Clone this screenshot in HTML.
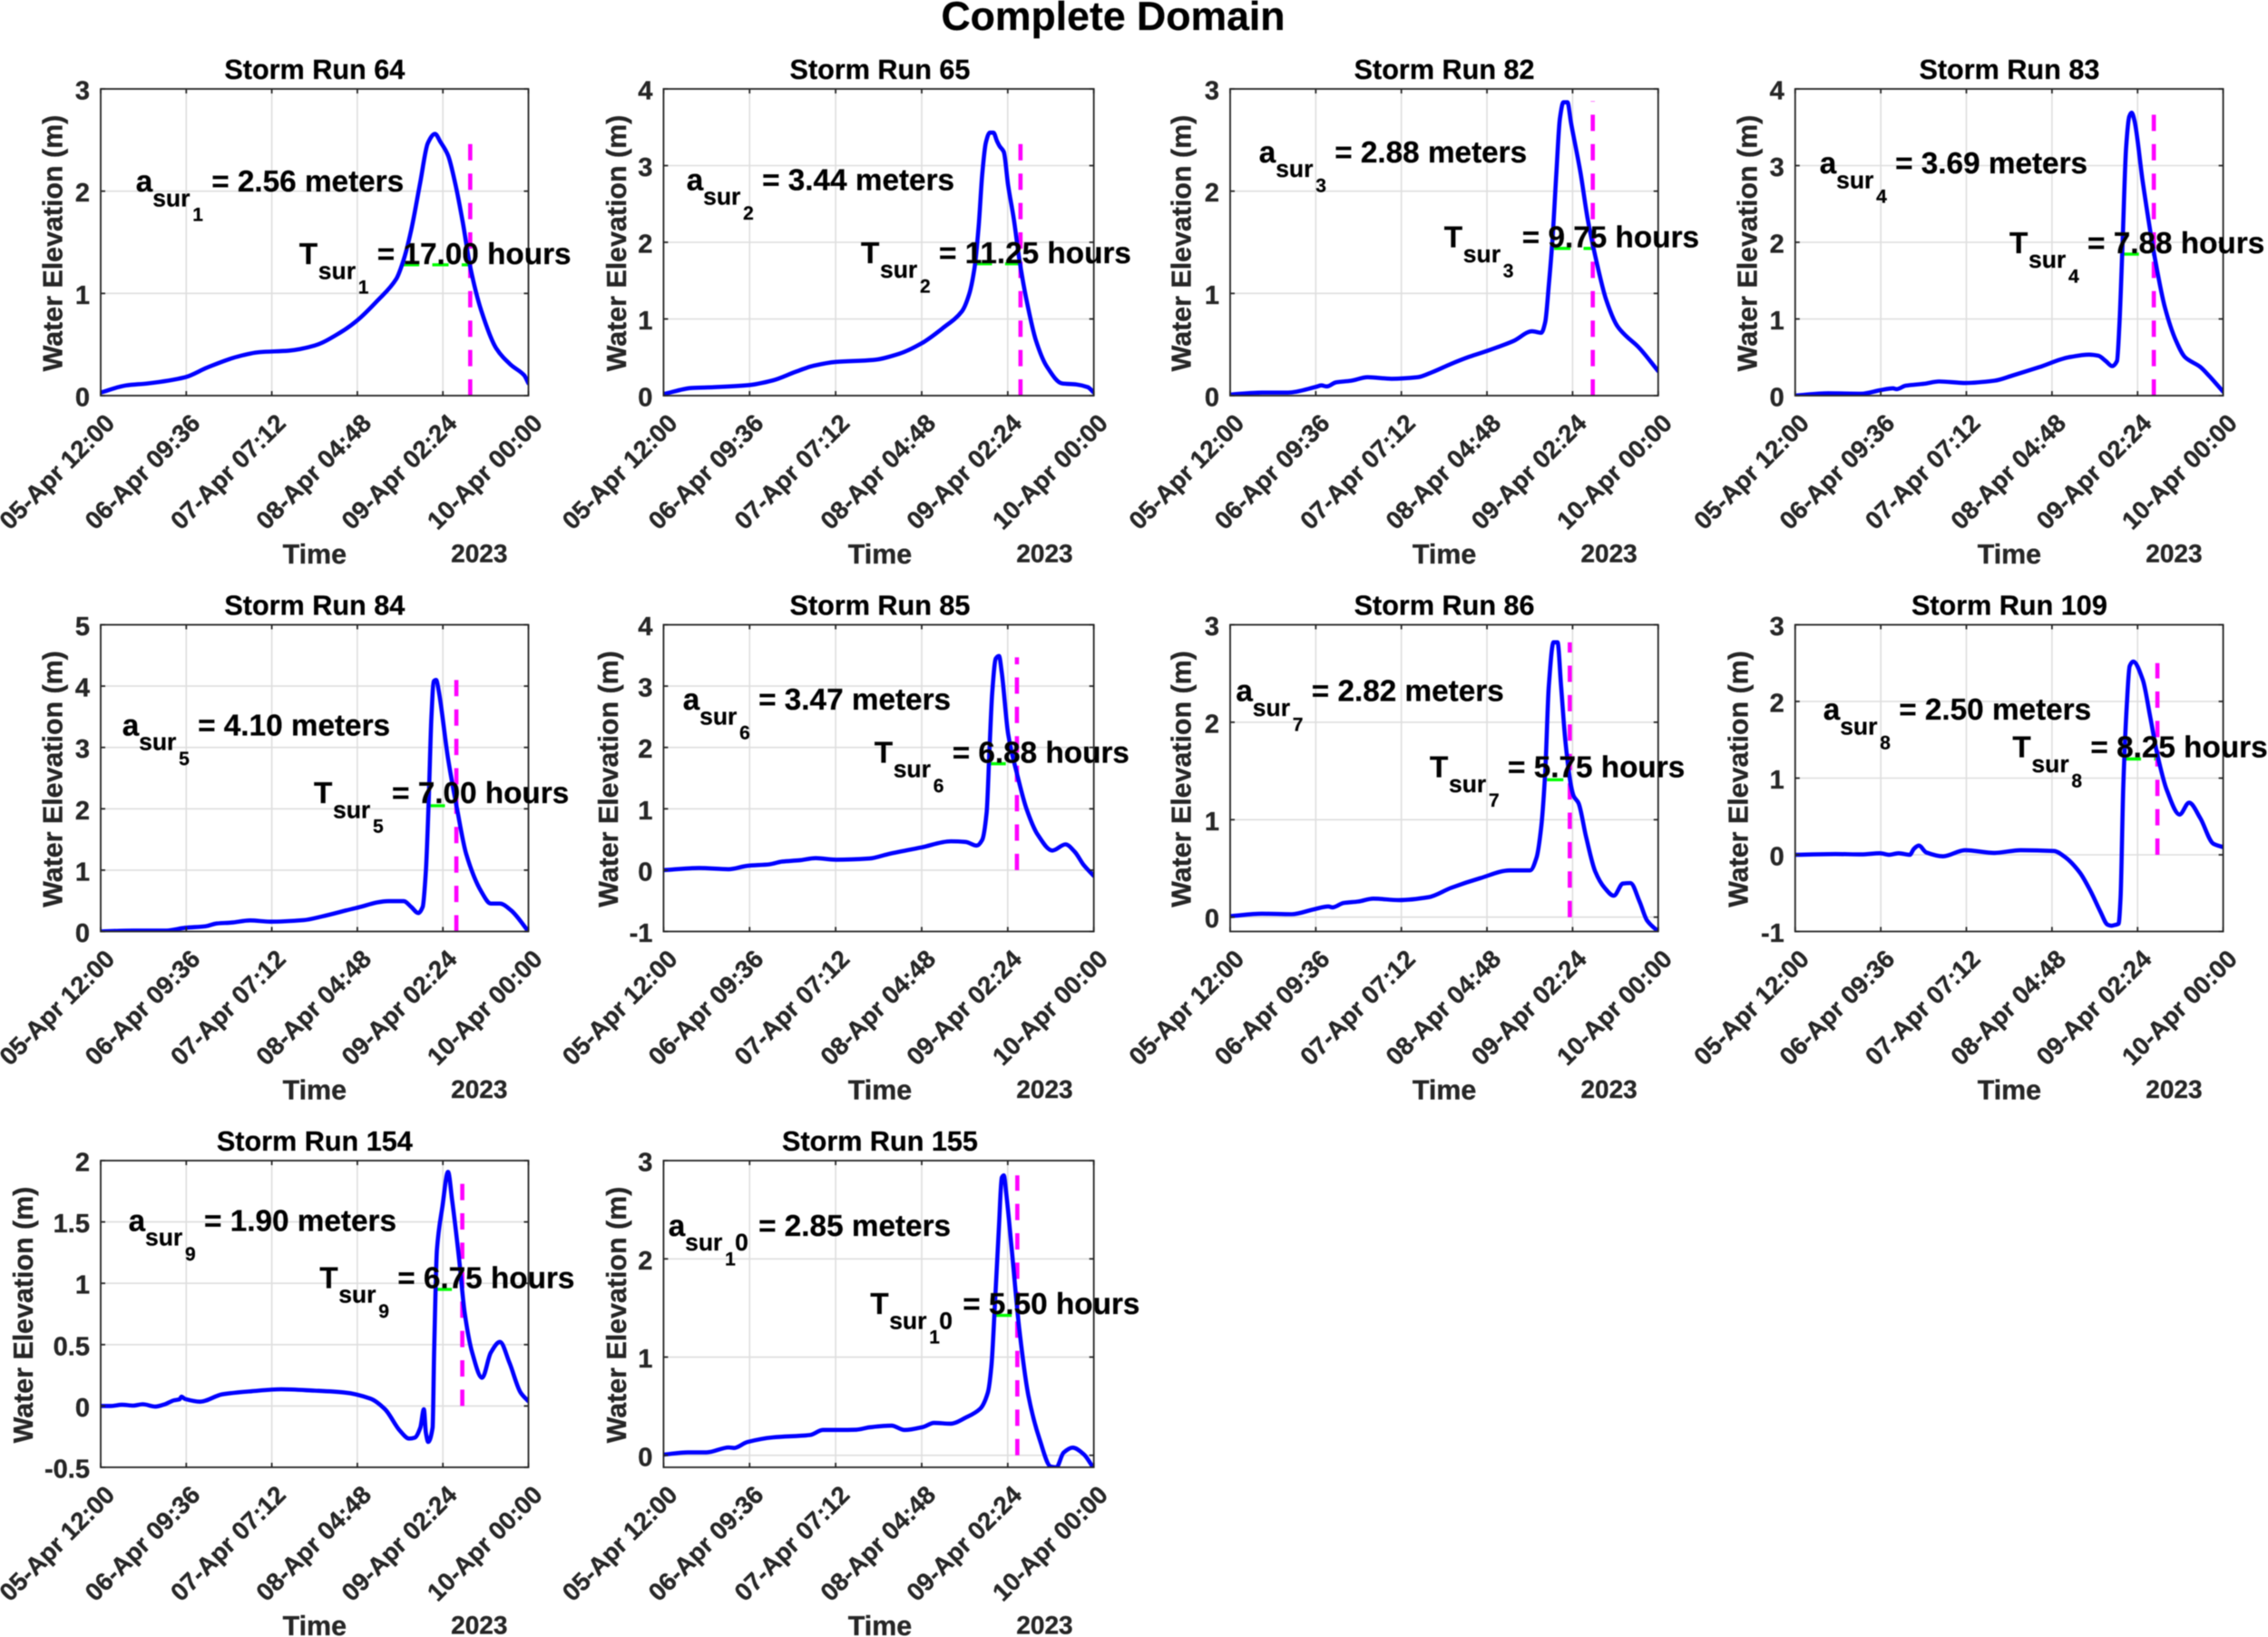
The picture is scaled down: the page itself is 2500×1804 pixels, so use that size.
<!DOCTYPE html>
<html lang="en">
<head>
<meta charset="utf-8">
<title>Complete Domain</title>
<style>
  html, body { margin: 0; padding: 0; background: #ffffff; }
  svg { display: block; filter: blur(0.5px); }
  text { font-family: "Liberation Sans", Arial, sans-serif; font-weight: bold; text-rendering: geometricPrecision; stroke: #262626; stroke-width: 0.35px; }
</style>
</head>
<body>
<svg id="figure" xmlns="http://www.w3.org/2000/svg" width="2500" height="1804" viewBox="0 0 2500 1804">
  <rect x="0" y="0" width="2500" height="1804" fill="#ffffff"/>
  <text x="1227" y="33" font-size="44.6" text-anchor="middle" fill="#000000">Complete Domain</text>
</svg>
<script>
// ---------- shared axis data ----------
const xTickHours = [0, 21.6, 43.2, 64.8, 86.4, 108];
const xTickLabels = ["05-Apr 12:00", "06-Apr 09:36", "07-Apr 07:12", "08-Apr 04:48", "09-Apr 02:24", "10-Apr 00:00"];
const xDomainEnd = 108;
const xLabelText = "Time";
const yLabelText = "Water Elevation (m)";
const yearLabelText = "2023";

// ---------- per-panel categories and scalars ----------
const stormRuns = [64, 65, 82, 83, 84, 85, 86, 109, 154, 155];
const surgeIndexLabels = ["1", "2", "3", "4", "5", "6", "7", "8", "9", "10"];
const peakMeters = [2.56, 3.44, 2.88, 3.69, 4.10, 3.47, 2.82, 2.50, 1.90, 2.85];
const durationHours = [17.00, 11.25, 9.75, 7.88, 7.00, 6.88, 5.75, 8.25, 6.75, 5.50];
const surgeEndHour = [93.3, 89.6, 91.5, 90.5, 89.8, 88.7, 85.7, 91.4, 91.3, 88.8];
const yMinValues = [0, 0, 0, 0, 0, -1, -0.147, -1, -0.5, -0.122];
const yMaxValues = [3, 4, 3, 4, 5, 4, 3, 3, 2, 3];
const yTicks64 = [0, 1, 2, 3];
const yTicks65 = [0, 1, 2, 3, 4];
const yTicks82 = [0, 1, 2, 3];
const yTicks83 = [0, 1, 2, 3, 4];
const yTicks84 = [0, 1, 2, 3, 4, 5];
const yTicks85 = [-1, 0, 1, 2, 3, 4];
const yTicks86 = [0, 1, 2, 3];
const yTicks109 = [-1, 0, 1, 2, 3];
const yTicks154 = [-0.5, 0, 0.5, 1, 1.5, 2];
const yTicks155 = [0, 1, 2, 3];

// ---------- series: hours since 05-Apr 12:00, water elevation in metres ----------
const hours64 = [0, 6.4, 12, 21.3, 26.9, 34.4, 40, 47.5, 54, 60.6, 64.9, 69.9, 74.6, 76.5, 78.4, 80.7, 82.6, 84.4, 85.8, 87.7, 89.6, 91.4, 93.3, 96.1, 99.9, 103.6, 106.9, 108];
const elev64 = [0.03, 0.10, 0.12, 0.18, 0.275, 0.38, 0.425, 0.44, 0.49, 0.62, 0.74, 0.93, 1.14, 1.33, 1.62, 2.09, 2.47, 2.56, 2.48, 2.35, 2.06, 1.70, 1.26, 0.83, 0.46, 0.30, 0.20, 0.12];

const hours65 = [0, 7.1, 12.6, 21, 27.5, 33.1, 37.7, 43.3, 52.6, 59.1, 64.7, 70.2, 74.9, 76.7, 78.1, 79.1, 80, 80.9, 81.9, 82.8, 83.7, 84.4, 85.4, 86.5, 87.9, 89.3, 91.1, 93.5, 96.2, 100, 103.7, 106.5, 108];
const elev65 = [0.02, 0.10, 0.11, 0.135, 0.20, 0.31, 0.39, 0.44, 0.465, 0.545, 0.68, 0.885, 1.10, 1.32, 1.68, 2.21, 2.89, 3.30, 3.43, 3.43, 3.32, 3.25, 3.18, 2.74, 2.31, 1.78, 1.25, 0.715, 0.38, 0.16, 0.145, 0.11, 0.04];

const hours82 = [0, 8, 14.6, 21.6, 23, 24.4, 26.7, 30.4, 34.7, 40.7, 47.3, 51, 55.7, 60.3, 65, 71.5, 76.2, 78.5, 79.5, 80.4, 81.3, 82.3, 83.2, 84.1, 85.1, 86, 88.4, 90.2, 92.1, 94.9, 97.7, 100, 102.9, 108];
const elev82 = [0.01, 0.03, 0.03, 0.085, 0.10, 0.09, 0.13, 0.145, 0.18, 0.165, 0.18, 0.23, 0.31, 0.38, 0.44, 0.535, 0.63, 0.615, 0.72, 1.08, 1.51, 2.17, 2.71, 2.87, 2.87, 2.67, 2.18, 1.73, 1.37, 0.935, 0.68, 0.58, 0.48, 0.24];

const hours83 = [0, 8.3, 16.7, 21.4, 24.7, 25.6, 27.9, 32.6, 36.3, 42.9, 50.3, 55, 61.5, 69, 74.2, 76.5, 78.4, 80, 81.2, 81.8, 82.6, 83.5, 84.3, 84.9, 85.6, 87.7, 90.5, 93.3, 96.1, 98.4, 102.2, 104.5, 108];
const elev83 = [0.00, 0.03, 0.025, 0.07, 0.095, 0.085, 0.13, 0.155, 0.185, 0.165, 0.195, 0.265, 0.37, 0.50, 0.535, 0.52, 0.45, 0.385, 0.45, 0.91, 1.97, 3.23, 3.64, 3.69, 3.59, 2.79, 1.87, 1.15, 0.715, 0.50, 0.375, 0.255, 0.05];

const hours84 = [0, 8.2, 16.6, 21.3, 26.5, 29.3, 33, 37.7, 42.8, 51.2, 55.9, 64.3, 72.7, 76.5, 78.4, 80.2, 81.3, 82.1, 82.8, 83.5, 84.1, 84.7, 85.3, 87.7, 90, 92.3, 96.1, 98.5, 100.8, 103.6, 108];
const elev84 = [0.00, 0.015, 0.015, 0.06, 0.085, 0.13, 0.145, 0.18, 0.16, 0.185, 0.245, 0.38, 0.495, 0.495, 0.40, 0.30, 0.40, 0.985, 2.10, 3.49, 4.08, 4.10, 3.94, 2.82, 1.99, 1.26, 0.65, 0.455, 0.455, 0.345, 0.00];

const hours85 = [0, 8.9, 16.3, 21, 26.6, 29.8, 34, 38.2, 43.3, 51.7, 56.3, 64.7, 72.1, 75.8, 78.6, 80, 81.1, 81.8, 82.5, 83.4, 84.2, 84.9, 86.5, 88.8, 91.1, 93.9, 97.6, 100.9, 103.2, 105.5, 108];
const elev85 = [0.00, 0.035, 0.015, 0.07, 0.095, 0.14, 0.16, 0.195, 0.17, 0.19, 0.26, 0.37, 0.47, 0.46, 0.40, 0.495, 0.94, 1.94, 2.89, 3.45, 3.49, 3.22, 2.22, 1.55, 1.00, 0.58, 0.32, 0.42, 0.30, 0.08, -0.095];

const hours86 = [0, 8, 15.5, 21.1, 24.8, 25.8, 28.6, 32.3, 36.1, 42.6, 50.1, 55.7, 63.1, 70.6, 75.7, 77.3, 78.5, 79.5, 80.4, 81.6, 82.6, 83.5, 84.6, 86, 86.7, 87.9, 89.8, 92.1, 94.5, 96.8, 99.1, 101, 103.3, 105.2, 108];
const elev86 = [0.01, 0.035, 0.03, 0.08, 0.11, 0.10, 0.145, 0.16, 0.19, 0.175, 0.205, 0.30, 0.40, 0.48, 0.48, 0.61, 0.93, 1.49, 2.37, 2.82, 2.82, 2.37, 1.80, 1.35, 1.24, 1.17, 0.825, 0.47, 0.30, 0.22, 0.345, 0.35, 0.16, -0.035, -0.147];

const hours109 = [0, 10.2, 16.7, 21.4, 23.7, 26.1, 28.9, 30, 31.2, 33.1, 37.3, 42.9, 50.3, 56.9, 65.3, 68.1, 71.8, 74.6, 77, 78.8, 79.8, 80.7, 81.6, 82.1, 82.8, 83.7, 84.4, 85.3, 87.7, 89.6, 91.4, 93.8, 97, 99.4, 102.2, 105.5, 108];
const elev109 = [0.00, 0.01, 0.005, 0.02, 0.00, 0.02, 0.00, 0.08, 0.12, 0.03, -0.02, 0.06, 0.025, 0.06, 0.05, -0.03, -0.23, -0.48, -0.74, -0.91, -0.925, -0.915, -0.90, -0.565, 0.90, 1.97, 2.46, 2.52, 2.285, 1.795, 1.305, 0.84, 0.525, 0.68, 0.48, 0.145, 0.10];

const hours154 = [0, 2.6, 5.4, 8.2, 10.6, 13.8, 16.2, 18.5, 19.9, 20.4, 21.3, 25.1, 30.7, 38.1, 45.6, 54, 61.5, 68.1, 71.8, 75.6, 77.9, 79.3, 80.7, 81.6, 82.1, 82.7, 83.8, 84.2, 84.9, 86.3, 87.7, 88.7, 90.5, 91.9, 93.8, 96.3, 98.5, 100.8, 103.2, 106, 108];
const elev154 = [0.00, 0.00, 0.01, 0.003, 0.014, -0.005, 0.014, 0.046, 0.054, 0.076, 0.057, 0.035, 0.095, 0.12, 0.136, 0.125, 0.11, 0.06, -0.027, -0.204, -0.266, -0.258, -0.177, -0.027, -0.217, -0.293, -0.177, 0.462, 1.277, 1.63, 1.908, 1.685, 1.196, 0.76, 0.435, 0.23, 0.435, 0.522, 0.353, 0.11, 0.038];

const hours155 = [0, 6.1, 10.8, 16.4, 17.7, 21, 27.5, 36.8, 40, 44.2, 48.4, 51.7, 57.2, 60.5, 65.1, 67.9, 72.1, 75.8, 79.5, 81.4, 82.3, 83.2, 84.2, 84.9, 85.4, 86, 87.4, 89.3, 91.6, 94.4, 97.2, 98.6, 100.4, 102.7, 105.5, 107.8];
const elev155 = [0.007, 0.03, 0.03, 0.08, 0.075, 0.135, 0.183, 0.207, 0.258, 0.258, 0.261, 0.285, 0.302, 0.258, 0.288, 0.33, 0.322, 0.383, 0.475, 0.638, 0.91, 1.554, 2.335, 2.827, 2.85, 2.674, 2.097, 1.283, 0.604, 0.163, -0.115, -0.122, 0.027, 0.078, 0.01, -0.122];

const allHours = [hours64, hours65, hours82, hours83, hours84, hours85, hours86, hours109, hours154, hours155];
const allElev = [elev64, elev65, elev82, elev83, elev84, elev85, elev86, elev109, elev154, elev155];
const allYTicks = [yTicks64, yTicks65, yTicks82, yTicks83, yTicks84, yTicks85, yTicks86, yTicks109, yTicks154, yTicks155];

// ---------- page layout (pixels, not data) ----------
const layout = [
  { l: 111,    r: 582.5,  row: 0, yl: 68.6,  ax: 149.8,  ay: 211,   tx: 329.8,  ty: 291 },
  { l: 731.4,  r: 1205.7, row: 0, yl: 690,   ax: 756.7,  ay: 209.4, tx: 949,    ty: 289.8 },
  { l: 1356,   r: 1827.8, row: 0, yl: 1312.6,ax: 1387.8, ay: 178.8, tx: 1591.8, ty: 272.7 },
  { l: 1978.8, r: 2450.6, row: 0, yl: 1936.7,ax: 2005.7, ay: 191,   tx: 2215,   ty: 278.8 },
  { l: 111,    r: 582.5,  row: 1, yl: 68.6,  ax: 134.7,  ay: 810.3, tx: 346,    ty: 885 },
  { l: 731.4,  r: 1205.7, row: 1, yl: 680.8, ax: 752.7,  ay: 782,   tx: 963.7,  ty: 840.4 },
  { l: 1356,   r: 1827.8, row: 1, yl: 1312.6,ax: 1362.4, ay: 772.7, tx: 1576,   ty: 856.5 },
  { l: 1978.8, r: 2450.6, row: 1, yl: 1926.5,ax: 2009.8, ay: 793,   tx: 2218.4, ty: 834.7 },
  { l: 111,    r: 582.5,  row: 2, yl: 36,    ax: 141.6,  ay: 1356.4,tx: 352.2,  ty: 1419.4 },
  { l: 731.4,  r: 1205.7, row: 2, yl: 690,   ax: 736.7,  ay: 1361.9,tx: 959.2,  ty: 1448 }
];
const rowTop = [98, 688.5, 1279];
const axesHeight = 338;
const INK = "#262626";
const GRID = "#dedede";
const NS = "http://www.w3.org/2000/svg";
const figure = document.getElementById("figure");

function make(tag, attrs, parent, content) {
  const el = document.createElementNS(NS, tag);
  for (const k in attrs) el.setAttribute(k, attrs[k]);
  if (content !== undefined) el.textContent = content;
  parent.appendChild(el);
  return el;
}

// Monotone cubic through the read points, so peaks never overshoot.
function smoothPath(pts) {
  const n = pts.length;
  const slope = [];
  for (let i = 0; i < n - 1; i++) slope.push((pts[i + 1][1] - pts[i][1]) / (pts[i + 1][0] - pts[i][0]));
  const tangent = [slope[0]];
  for (let i = 1; i < n - 1; i++) {
    const a = slope[i - 1], b = slope[i];
    tangent.push(a * b <= 0 ? 0 : 2 * a * b / (a + b));
  }
  tangent.push(slope[n - 2]);
  let d = "M" + pts[0][0].toFixed(2) + " " + pts[0][1].toFixed(2);
  for (let i = 0; i < n - 1; i++) {
    const dx = (pts[i + 1][0] - pts[i][0]) / 3;
    d += "C" + (pts[i][0] + dx).toFixed(2) + " " + (pts[i][1] + tangent[i] * dx).toFixed(2) + " " +
         (pts[i + 1][0] - dx).toFixed(2) + " " + (pts[i + 1][1] - tangent[i + 1] * dx).toFixed(2) + " " +
         pts[i + 1][0].toFixed(2) + " " + pts[i + 1][1].toFixed(2);
  }
  return d;
}

function drawAnnotation(parent, x, y, base, idx, tail, subStart) {
  const isTwoDigit = idx.length > 1;
  const digit = idx.charAt(0);
  const eqX = x + subStart + (isTwoDigit ? 81 : 65);
  const t = make("text", { "font-size": 33.3, fill: "#000000" }, parent);
  make("tspan", { x: x, y: y }, t, base);
  make("tspan", { x: x + subStart, y: y + 16.3, "font-size": 26.5 }, t, "sur");
  make("tspan", { x: x + subStart + 44, y: y + 32.6, "font-size": 21 }, t, digit);
  if (isTwoDigit) make("tspan", { x: x + subStart + 55, y: y + 16.3, "font-size": 26.5 }, t, idx.charAt(1));
  make("tspan", { x: eqX, y: y }, t, "= " + tail);
  return t;
}

stormRuns.forEach(function (run, i) {
  const box = layout[i];
  const top = rowTop[box.row];
  const bottom = top + axesHeight;
  const yMin = yMinValues[i], yMax = yMaxValues[i];
  const xScale = function (h) { return box.l + (h / xDomainEnd) * (box.r - box.l); };
  const yScale = function (v) { return bottom - ((v - yMin) / (yMax - yMin)) * axesHeight; };
  const centerX = box.r - 235.7;

  const panel = make("g", {}, figure);
  
  

  const clip = make("clipPath", { id: "clip-" + run }, panel);
  make("rect", { x: box.l, y: top, width: box.r - box.l, height: axesHeight }, clip);

  const title = make("text", { x: centerX, y: top - 11, "font-size": 30.6, "text-anchor": "middle", fill: "#000000" }, panel, "Storm Run " + run);
  
  

  // gridlines
  xTickHours.forEach(function (h) {
    const gx = make("line", { x1: xScale(h), x2: xScale(h), y1: top, y2: bottom, stroke: GRID, "stroke-width": 1.6 }, panel);
    
    
  });
  allYTicks[i].forEach(function (v) {
    const gy = make("line", { x1: box.l, x2: box.r, y1: yScale(v), y2: yScale(v), stroke: GRID, "stroke-width": 1.6 }, panel);
    
    
  });

  // half-peak duration marker (green) and surge end marker (magenta)
  const halfLine = make("line", {
    x1: xScale(surgeEndHour[i] - durationHours[i]), x2: xScale(surgeEndHour[i]),
    y1: yScale(peakMeters[i] / 2), y2: yScale(peakMeters[i] / 2),
    stroke: "#00ff00", "stroke-width": 3.4, "stroke-dasharray": "18 14.4"
  }, panel);
  
  

  const endLine = make("line", {
    x1: xScale(surgeEndHour[i]), x2: xScale(surgeEndHour[i]),
    y1: yScale(0), y2: yScale(peakMeters[i]),
    stroke: "#ff00ff", "stroke-width": 4.6, "stroke-dasharray": "18 14.4"
  }, panel);
  
  

  // water level series
  const pts = allHours[i].map(function (h, k) { return [xScale(h), yScale(allElev[i][k])]; });
  const series = make("path", {
    d: smoothPath(pts), fill: "none", stroke: "#0000ff", "stroke-width": 4.6,
    "stroke-linejoin": "round", "stroke-linecap": "round", "clip-path": "url(#clip-" + run + ")"
  }, panel);
  
  

  // axes frame and ticks
  const frame = make("rect", { x: box.l, y: top, width: box.r - box.l, height: axesHeight, fill: "none", stroke: INK, "stroke-width": 1.8 }, panel);
  
  

  xTickHours.forEach(function (h, k) {
    const x = xScale(h);
    const tickB = make("line", { x1: x, x2: x, y1: bottom, y2: bottom - 5, stroke: INK, "stroke-width": 1.8 }, panel);
    
    
    const tickT = make("line", { x1: x, x2: x, y1: top, y2: top + 5, stroke: INK, "stroke-width": 1.8 }, panel);
    
    
    const lx = x + 17, ly = bottom + 32;
    const lab = make("text", { x: lx, y: ly, "font-size": 27.6, "text-anchor": "end", fill: INK, transform: "rotate(-45 " + lx + " " + ly + ")" }, panel, xTickLabels[k]);
    
    
  });

  allYTicks[i].forEach(function (v) {
    const y = yScale(v);
    const tickL = make("line", { x1: box.l, x2: box.l + 5, y1: y, y2: y, stroke: INK, "stroke-width": 1.8 }, panel);
    
    
    const tickR = make("line", { x1: box.r, x2: box.r - 5, y1: y, y2: y, stroke: INK, "stroke-width": 1.8 }, panel);
    
    
    const lab = make("text", { x: box.l - 12, y: y + 11.5, "font-size": 29, "text-anchor": "end", fill: INK }, panel, String(v));
    
    
  });

  // axis titles
  const cy = top + 170;
  const yTitle = make("text", { x: box.yl, y: cy, "font-size": 30.4, "text-anchor": "middle", fill: INK, transform: "rotate(-90 " + box.yl + " " + cy + ")" }, panel, yLabelText);
  
  

  const xTitle = make("text", { x: centerX, y: top + 523, "font-size": 30.4, "text-anchor": "middle", fill: INK }, panel, xLabelText);
  
  

  const year = make("text", { x: box.r - 54.2, y: top + 521.5, "font-size": 28, "text-anchor": "middle", fill: INK }, panel, yearLabelText);
  
  

  // annotations
  const aNote = drawAnnotation(panel, box.ax, box.ay, "a", surgeIndexLabels[i], peakMeters[i].toFixed(2) + " meters", 18.4);
  
  

  const tNote = drawAnnotation(panel, box.tx, box.ty, "T", surgeIndexLabels[i], durationHours[i].toFixed(2) + " hours", 21);
  
  
});
</script>
</body>
</html>
